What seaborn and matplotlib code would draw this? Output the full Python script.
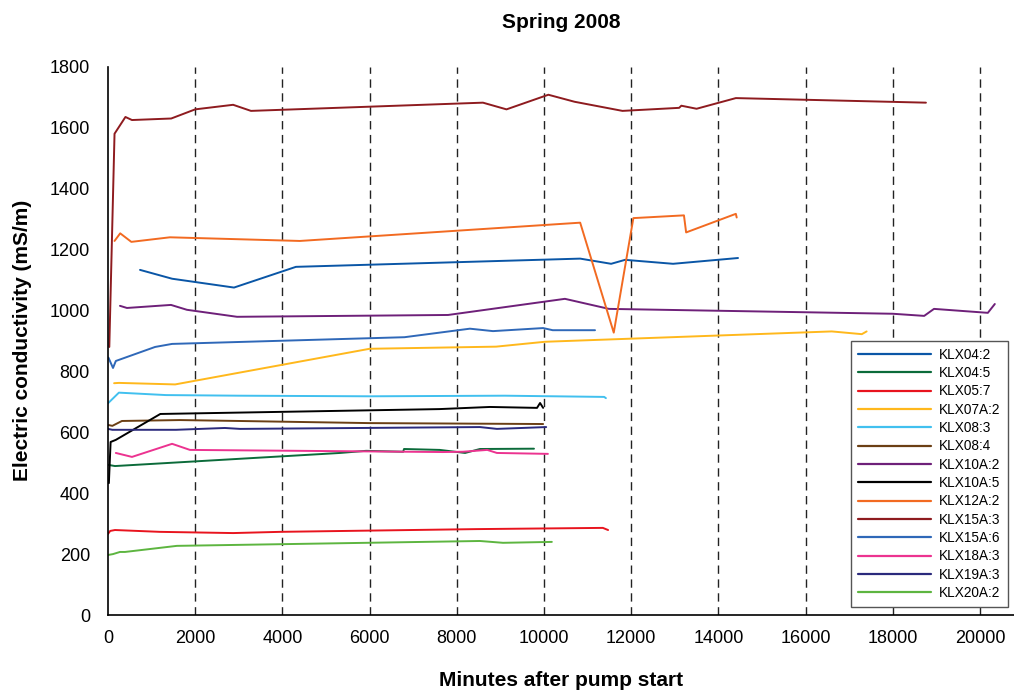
import matplotlib
matplotlib.use("Agg")
import matplotlib.pyplot as plt
import seaborn as sns
import pandas as pd

# ---- data ----
labels = ["KLX04:2", "KLX04:5", "KLX05:7", "KLX07A:2", "KLX08:3", "KLX08:4", "KLX10A:2",
          "KLX10A:5", "KLX12A:2", "KLX15A:3", "KLX15A:6", "KLX18A:3", "KLX19A:3", "KLX20A:2"]

klx04_2_x = [735, 1470, 2890, 4310, 10830, 11540, 11860, 12960, 14450]
klx04_2_y = [1133, 1104, 1075, 1143, 1170, 1153, 1166, 1153, 1172]

klx04_5_x = [0, 160, 5320, 5920, 6770, 6790, 7610, 8190, 8530, 9770]
klx04_5_y = [493, 489, 532, 539, 536, 545, 542, 532, 545, 546]

klx05_7_x = [0, 50, 160, 1190, 2870, 3950, 8450, 11350, 11470]
klx05_7_y = [266, 276, 279, 273, 269, 273, 282, 286, 279]

klx07a_2_x = [140, 250, 1540, 6000, 8900, 10020, 16600, 17290, 17400]
klx07a_2_y = [761, 762, 757, 874, 881, 897, 931, 922, 931]

klx08_3_x = [0, 250, 1330, 3000, 6000, 9100, 11380, 11420]
klx08_3_y = [695, 730, 722, 720, 718, 720, 716, 712]

klx08_4_x = [0, 100, 320, 1650, 3000, 6000, 9980]
klx08_4_y = [624, 621, 637, 640, 637, 630, 627]

klx10a_2_x = [275, 435, 1445, 1810, 2960, 7800, 10480, 11490, 18000, 18720, 18945, 20180, 20340]
klx10a_2_y = [1015, 1008, 1018, 1002, 979, 985, 1038, 1005, 989, 982, 1005, 992, 1021]

klx10a_5_x = [20, 60, 180, 1200, 7600, 8760, 9840, 9910, 9980]
klx10a_5_y = [433, 568, 575, 660, 676, 683, 680, 696, 680]

klx12a_2_x = [150, 280, 535, 1420, 4400, 10830, 11600, 12050, 13210, 13260, 14400, 14420]
klx12a_2_y = [1228, 1253, 1225, 1240, 1228, 1288, 927, 1303, 1312, 1256, 1317, 1305]

klx15a_3_x = [30, 150, 400, 550, 1450, 2000, 2870, 3280, 8600, 9140, 10100, 10700,
              11800, 13100, 13150, 13500, 14400, 18760]
klx15a_3_y = [880, 1580, 1635, 1625, 1630, 1660, 1675, 1655, 1682, 1660, 1708, 1685,
              1655, 1665, 1672, 1662, 1697, 1682]

klx15a_6_x = [10, 115, 180, 1080, 1470, 6800, 8300, 8830, 9980, 10200, 11170]
klx15a_6_y = [845, 811, 834, 880, 890, 912, 940, 932, 942, 935, 935]

klx18a_3_x = [180, 550, 1470, 1880, 7680, 8140, 8700, 8920, 10090]
klx18a_3_y = [532, 519, 562, 542, 535, 536, 542, 532, 529]

klx19a_3_x = [0, 100, 1560, 2680, 3030, 8530, 8920, 10050]
klx19a_3_y = [611, 608, 608, 614, 611, 617, 611, 617]

klx20a_2_x = [0, 115, 275, 390, 1580, 8530, 9060, 10180]
klx20a_2_y = [197, 200, 207, 207, 227, 243, 237, 240]

series_x = [klx04_2_x, klx04_5_x, klx05_7_x, klx07a_2_x, klx08_3_x, klx08_4_x, klx10a_2_x,
            klx10a_5_x, klx12a_2_x, klx15a_3_x, klx15a_6_x, klx18a_3_x, klx19a_3_x, klx20a_2_x]
series_y = [klx04_2_y, klx04_5_y, klx05_7_y, klx07a_2_y, klx08_3_y, klx08_4_y, klx10a_2_y,
            klx10a_5_y, klx12a_2_y, klx15a_3_y, klx15a_6_y, klx18a_3_y, klx19a_3_y, klx20a_2_y]

colors = ["#0a56a6", "#0b6b3a", "#e8141e", "#ffb81c", "#41c0ef", "#6b3f14", "#6e2079",
          "#000000", "#f26a21", "#8e1b1f", "#2f68b8", "#ec3390", "#2b2a7c", "#5db540"]

x_ticks = list(range(0, 20001, 2000))
y_ticks = list(range(0, 1801, 200))

rows = []
for lab, xs, ys in zip(labels, series_x, series_y):
    for i, (xv, yv) in enumerate(zip(xs, ys)):
        rows.append({"series": lab, "order": i, "x": xv, "y": yv})
df = pd.DataFrame(rows)

sns.set_theme(style="white")
plt.rcParams["font.family"] = ["Liberation Sans", "DejaVu Sans"]
plt.rcParams["text.color"] = "black"
plt.rcParams["axes.labelcolor"] = "black"
plt.rcParams["xtick.color"] = "black"
plt.rcParams["ytick.color"] = "black"

fig = plt.figure(figsize=(10.14, 6.95), dpi=100)
ax = fig.add_axes([0.1065, 0.1151, 0.8935, 0.7889])

for xv in x_ticks[1:]:
    ax.axvline(xv, color="#222222", lw=1.0, ls=(0, (6, 4)), zorder=0.5)

sns.lineplot(data=df, x="x", y="y", hue="series", hue_order=labels,
             palette=dict(zip(labels, colors)), sort=False, estimator=None,
             units="series", linewidth=1.4, ax=ax, legend=False)

ax.set_xlim(0, 20780)
ax.set_ylim(0, 1800)
ax.set_xticks(x_ticks)
ax.set_yticks(y_ticks)
ax.tick_params(axis="both", direction="inout", length=8, width=1, color="black",
               labelsize=13, labelcolor="black")
ax.tick_params(axis="y", pad=9)
ax.tick_params(axis="x", pad=7)
for s in ["top", "right"]:
    ax.spines[s].set_visible(False)
for s in ["left", "bottom"]:
    ax.spines[s].set_color("black")
    ax.spines[s].set_linewidth(1.2)

ax.set_xlabel("Minutes after pump start", fontsize=15, fontweight="bold", labelpad=17,
              color="black")
ax.set_ylabel("Electric conductivity (mS/m)", fontsize=15, fontweight="bold", labelpad=13,
              color="black")
ax.set_title("Spring 2008", fontsize=15, fontweight="bold", pad=28, color="black")

handles = [plt.Line2D([0], [0], color=c, lw=1.6) for c in colors]
leg = ax.legend(handles, labels, loc="lower right", bbox_to_anchor=(0.993, 0.0146),
                borderaxespad=0, fontsize=9.8, handlelength=5.4, handletextpad=0.6,
                labelspacing=0.32, frameon=True, fancybox=False, borderpad=0.5,
                framealpha=1.0)
leg.get_frame().set_edgecolor("#555555")
leg.get_frame().set_linewidth(1.0)
for t in leg.get_texts():
    t.set_color("black")

fig.savefig("out.png", dpi=100)
